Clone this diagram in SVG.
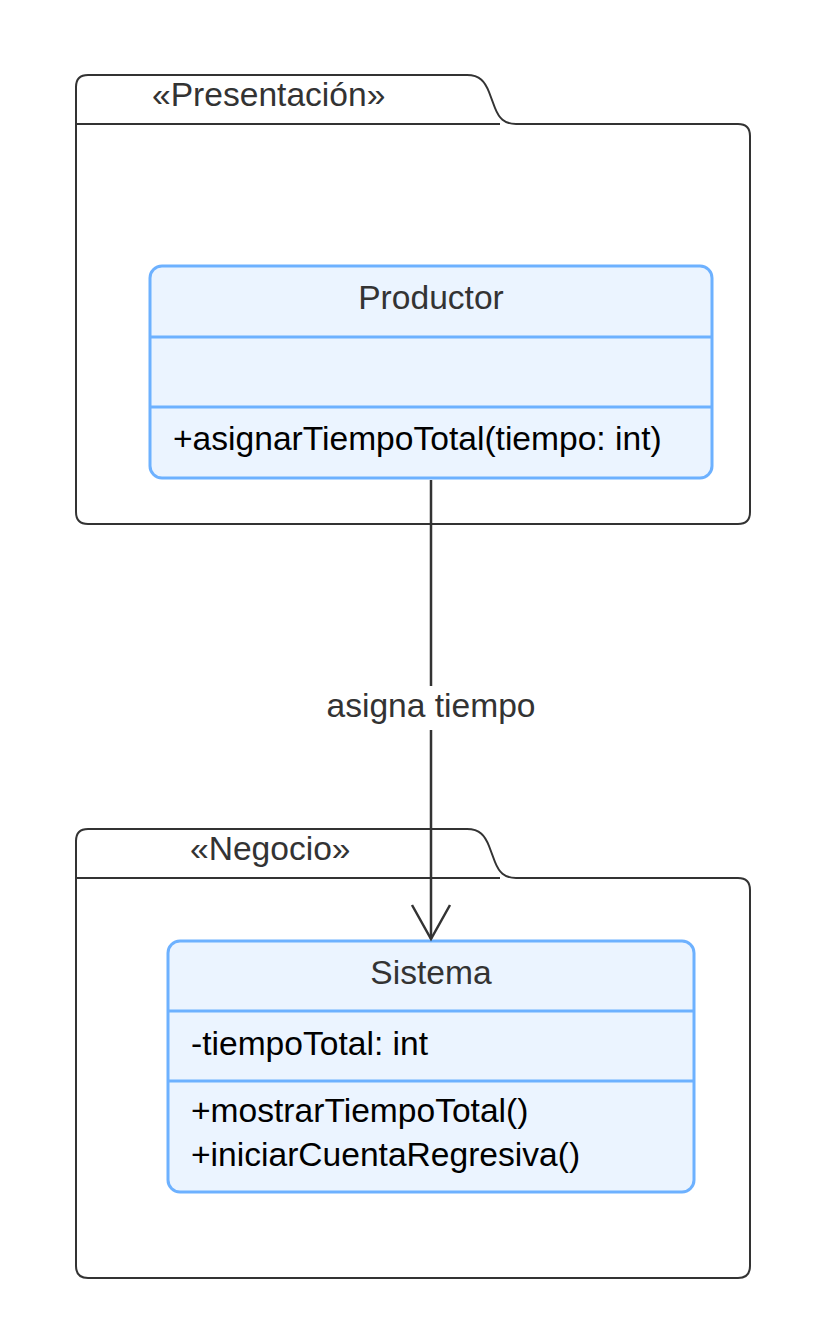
<svg xmlns="http://www.w3.org/2000/svg" width="818" height="1335" viewBox="0 0 818 1335">
<style>
.pkg{fill:#fff;stroke:#333;stroke-width:2}
.cls{fill:#ebf4ff;stroke:#6db1ff;stroke-width:3}
.div{stroke:#6db1ff;stroke-width:3}
.t{font-family:"Liberation Sans",Arial,sans-serif;font-size:33.6px}
.title{fill:#333}
.mem{fill:#000}
.conn{stroke:#333;stroke-width:2;fill:none}
.edge{stroke:#333;stroke-width:2.5;fill:none}
</style>
<defs>
<marker id="open" markerWidth="40" markerHeight="42" refX="35" refY="21" orient="auto" markerUnits="userSpaceOnUse" viewBox="0 0 40 42">
<path d="M1,2 L35,21 L1,40" fill="none" stroke="#333" stroke-width="2.5"/>
</marker>
</defs>
<rect width="818" height="1335" fill="#fff"/>
<g id="pkg-presentacion">
<path class="pkg" d="M88,75 H467 C480,75 485,82 489,92 L495,108 C499,118 504,124 516,124 H738 Q750,124 750,136 V512 Q750,524 738,524 H88 Q76,524 76,512 V87 Q76,75 88,75 Z"/>
<path class="conn" d="M76,124 H500"/>
<text class="t title" x="152" y="106">«Presentación»</text>
</g>
<g id="pkg-negocio">
<path class="pkg" d="M88,829 H467 C480,829 485,836 489,846 L495,862 C499,872 504,878 516,878 H738 Q750,878 750,890 V1266 Q750,1278 738,1278 H88 Q76,1278 76,1266 V841 Q76,829 88,829 Z"/>
<path class="conn" d="M76,878 H500"/>
<text class="t title" x="190" y="860">«Negocio»</text>
</g>
<g id="productor">
<rect class="cls" x="150" y="266" width="562" height="212" rx="12"/>
<path class="div" d="M150,337 H712 M150,407 H712"/>
<text class="t title" x="431" y="309" text-anchor="middle">Productor</text>
<text class="t mem" x="173" y="450">+asignarTiempoTotal(tiempo: int)</text>
</g>
<g id="sistema">
<rect class="cls" x="168" y="941" width="526" height="251" rx="12"/>
<path class="div" d="M168,1011 H694 M168,1081 H694"/>
<text class="t title" x="431" y="984" text-anchor="middle">Sistema</text>
<text class="t mem" x="191" y="1055">-tiempoTotal: int</text>
<text class="t mem" x="191" y="1122">+mostrarTiempoTotal()</text>
<text class="t mem" x="191" y="1166">+iniciarCuentaRegresiva()</text>
</g>
<g id="connectors">
<path class="edge" d="M431,480 V939" marker-end="url(#open)"/>
<rect x="320" y="686" width="222" height="44" fill="#fff"/>
<text class="t title" x="431" y="717" text-anchor="middle">asigna tiempo</text>
</g>
</svg>
